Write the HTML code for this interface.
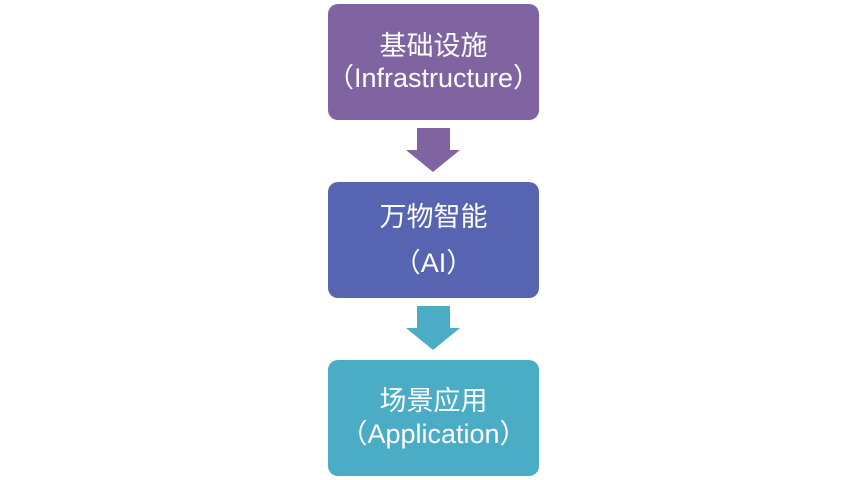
<!DOCTYPE html>
<html><head><meta charset="utf-8"><style>
body{margin:0;width:866px;height:480px;background:#fff;position:relative;overflow:hidden;font-family:"Liberation Sans","Noto Sans CJK SC",sans-serif}
.b{position:absolute;left:328px;width:211px;height:116px;border-radius:10px;color:#fff;font-size:27px;text-align:center;box-sizing:border-box}
.b div{position:absolute;left:-20px;right:-20px;line-height:30px}
svg{position:absolute;left:0;top:0}
</style></head><body>
<div class="b" style="top:4px;background:#8064A2"><div style="top:27px">基础设施</div><div style="top:59px">（Infrastructure）</div></div>
<div class="b" style="top:182px;background:#5664B2"><div style="top:20px">万物智能</div><div style="top:66px">（AI）</div></div>
<div class="b" style="top:360px;background:#4BACC6"><div style="top:26px">场景应用</div><div style="top:59px">（Application）</div></div>
<svg width="866" height="480">
<polygon points="417,128 450,128 450,150 460,150 433,172 406,150 417,150" fill="#8064A2"/>
<polygon points="417,306 450,306 450,328 460,328 433,350 406,328 417,328" fill="#4BACC6"/>
</svg>
</body></html>
